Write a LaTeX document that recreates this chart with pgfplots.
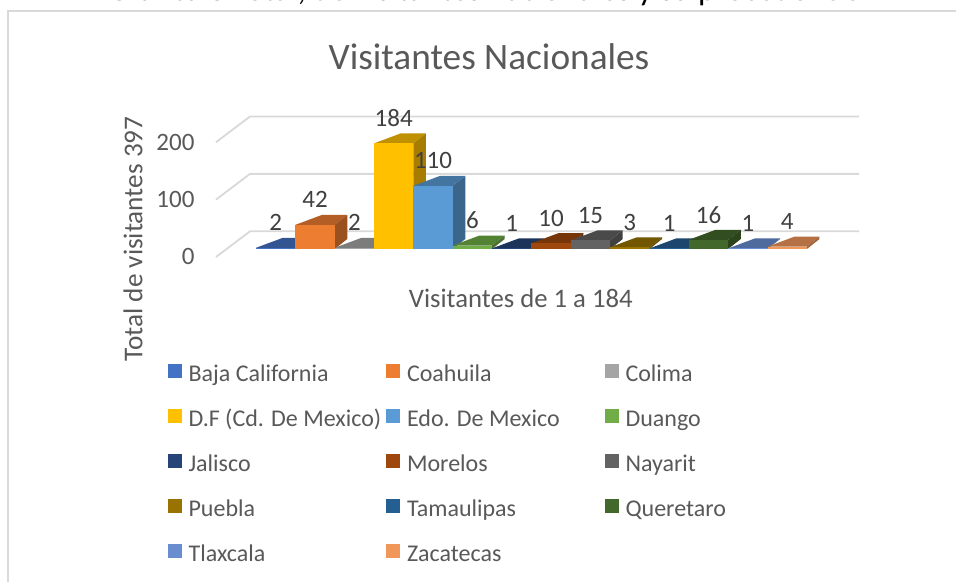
\documentclass[border=0pt]{standalone}
\usepackage{pgfplots}
\pgfplotsset{compat=1.18}
\usepackage{fontspec}
\setmainfont{Carlito}
\definecolor{txt}{HTML}{595959}
\definecolor{lbl}{HTML}{404040}
\definecolor{grd}{HTML}{D9D9D9}
\definecolor{s1}{HTML}{4472C4}
\definecolor{s2}{HTML}{ED7D31}
\definecolor{s3}{HTML}{A5A5A5}
\definecolor{s4}{HTML}{FFC000}
\definecolor{s5}{HTML}{5B9BD5}
\definecolor{s6}{HTML}{70AD47}
\definecolor{s7}{HTML}{264478}
\definecolor{s8}{HTML}{9E480E}
\definecolor{s9}{HTML}{636363}
\definecolor{s10}{HTML}{997300}
\definecolor{s11}{HTML}{255E91}
\definecolor{s12}{HTML}{43682B}
\definecolor{s13}{HTML}{698ED0}
\definecolor{s14}{HTML}{F1975A}
\newcommand\fs[1]{\fontsize{#1bp}{#1bp}\selectfont}
\newcommand\Ser[4]{%
  \addplot[fill=#1!75!black,draw=none,forget plot] coordinates {#3} -- cycle;
  \addplot[fill=#1!65!black,draw=none,forget plot] coordinates {#4} -- cycle;
  \addplot[ser=#1] coordinates {#2};
}
\newcommand\E[1]{\makebox[200.5bp][l]{\rule[-8bp]{0pt}{31bp}\hspace{5bp}#1}}
\pgfplotsset{
  ser/.style={ybar, bar width=39.35bp, bar shift=0pt, fill=#1, draw=none,
    nodes near coords,
    every node near coord/.append style={anchor=center,yshift=25bp,font=\fs{25},text=lbl,inner sep=0pt},
    /pgfplots/legend image code/.code={\fill[#1] (0bp,-7bp) rectangle (14bp,7bp);}},
}
\begin{document}
\begin{tikzpicture}
\path[use as bounding box] (0,0) rectangle (956bp,582bp);
\clip (0,0) rectangle (956bp,582bp);
\fill[white] (0,0) rectangle (956bp,582bp);
\node[anchor=base,font=\fs{33},text=black,inner sep=0pt] at (485bp,581.6bp) {Grafica 8 Total, de visitantes nacionales y su procedencia};
\draw[grd,line width=2bp] (7.5bp,-5bp) -- (7.5bp,570.5bp) -- (965bp,570.5bp);
\begin{axis}[
  at={(216bp,325bp)}, anchor=south west, scale only axis,
  width=643bp, height=140.5bp,
  xmin=-1.5165, xmax=14.824, ymin=-14, ymax=230.8,
  clip=false,
  axis line style={draw=none}, major tick length=0pt,
  xtick=\empty, ytick={0,100,200},
  /pgf/number format/assume math mode=true,
  yticklabel style={font=\fs{25},text=txt,yshift=-8bp,xshift=-18bp},
  title={Visitantes Nacionales},
  every axis title/.style={at={(axis description cs:0.4246,1.4235)},anchor=center,font=\fs{37.3},text=txt},
  xlabel={Visitantes de 1 a 184},
  every axis x label/.style={at={(axis description cs:0.474,-0.292)},anchor=center,font=\fs{26.7},text=txt},
  ylabel={Total de visitantes 397},
  every axis y label/.style={at={(axis description cs:-0.129,0.128)},anchor=center,rotate=90,font=\fs{27.2},text=txt},
  legend columns=3,
  legend cell align=left,
  legend style={at={(axis description cs:-0.0753,-0.709)},anchor=north west,draw=none,fill=none,
    font=\fs{24},text=txt,inner sep=0pt,outer sep=0pt,row sep=16.5bp},
]
\addplot[grd,line width=1.8bp,forget plot] coordinates {(-1.5165,-14) (-0.652,30.8) (14.824,30.8)};
\addplot[grd,line width=1.8bp,forget plot] coordinates {(-1.5165,86) (-0.652,130.8) (14.824,130.8)};
\addplot[grd,line width=1.8bp,forget plot] coordinates {(-1.5165,186) (-0.652,230.8) (14.824,230.8)};
\Ser{s1}{(0,2)}{(-0.5,2)(0.5,2)(0.82,19.4)(0.18,19.4)}{(0.5,0)(0.5,2)(0.82,19.4)(0.82,17.4)}
\Ser{s2}{(1,42)}{(0.5,42)(1.5,42)(1.82,59.4)(1.18,59.4)}{(1.5,0)(1.5,42)(1.82,59.4)(1.82,17.4)}
\Ser{s3}{(2,2)}{(1.5,2)(2.5,2)(2.82,19.4)(2.18,19.4)}{(2.5,0)(2.5,2)(2.82,19.4)(2.82,17.4)}
\Ser{s4}{(3,184)}{(2.5,184)(3.5,184)(3.82,201.4)(3.18,201.4)}{(3.5,0)(3.5,184)(3.82,201.4)(3.82,17.4)}
\Ser{s5}{(4,110)}{(3.5,110)(4.5,110)(4.82,127.4)(4.18,127.4)}{(4.5,0)(4.5,110)(4.82,127.4)(4.82,17.4)}
\Ser{s6}{(5,6)}{(4.5,6)(5.5,6)(5.82,23.4)(5.18,23.4)}{(5.5,0)(5.5,6)(5.82,23.4)(5.82,17.4)}
\Ser{s7}{(6,1)}{(5.5,1)(6.5,1)(6.82,18.4)(6.18,18.4)}{(6.5,0)(6.5,1)(6.82,18.4)(6.82,17.4)}
\Ser{s8}{(7,10)}{(6.5,10)(7.5,10)(7.82,27.4)(7.18,27.4)}{(7.5,0)(7.5,10)(7.82,27.4)(7.82,17.4)}
\Ser{s9}{(8,15)}{(7.5,15)(8.5,15)(8.82,32.4)(8.18,32.4)}{(8.5,0)(8.5,15)(8.82,32.4)(8.82,17.4)}
\Ser{s10}{(9,3)}{(8.5,3)(9.5,3)(9.82,20.4)(9.18,20.4)}{(9.5,0)(9.5,3)(9.82,20.4)(9.82,17.4)}
\Ser{s11}{(10,1)}{(9.5,1)(10.5,1)(10.82,18.4)(10.18,18.4)}{(10.5,0)(10.5,1)(10.82,18.4)(10.82,17.4)}
\Ser{s12}{(11,16)}{(10.5,16)(11.5,16)(11.82,33.4)(11.18,33.4)}{(11.5,0)(11.5,16)(11.82,33.4)(11.82,17.4)}
\Ser{s13}{(12,1)}{(11.5,1)(12.5,1)(12.82,18.4)(12.18,18.4)}{(12.5,0)(12.5,1)(12.82,18.4)(12.82,17.4)}
\Ser{s14}{(13,4)}{(12.5,4)(13.5,4)(13.82,21.4)(13.18,21.4)}{(13.5,0)(13.5,4)(13.82,21.4)(13.82,17.4)}
\legend{\E{Baja California},\E{Coahuila},\E{Colima},\E{D.F (Cd. De Mexico)},\E{Edo. De Mexico},\E{Duango},\E{Jalisco},\E{Morelos},\E{Nayarit},\E{Puebla},\E{Tamaulipas},\E{Queretaro},\E{Tlaxcala},\E{Zacatecas}}
\end{axis}
\end{tikzpicture}
\end{document}
